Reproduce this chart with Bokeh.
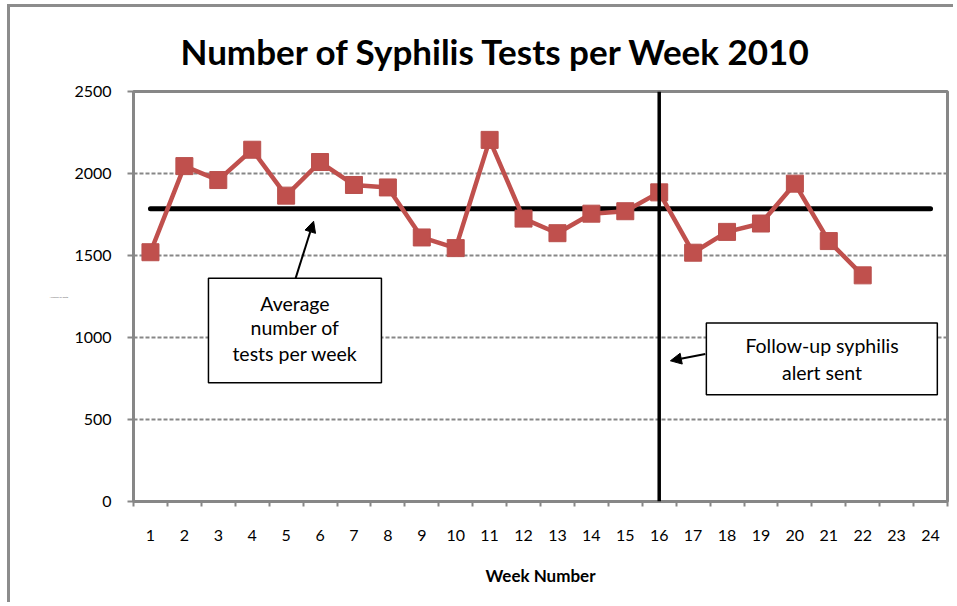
from bokeh.plotting import figure
from bokeh.models import (Range1d, FixedTicker, Span, BoxAnnotation, Label, Arrow,
                          NormalHead, ColumnDataSource)
from bokeh.embed import file_html
from bokeh.resources import INLINE

# ---- data ----
weeks = list(range(1, 23))
tests = [1520, 2045, 1960, 2145, 1865, 2070, 1930, 1915, 1610, 1545, 2205,
         1725, 1636, 1755, 1770, 1885, 1517, 1644, 1695, 1938, 1588, 1379]
week_labels = [str(i) for i in range(1, 25)]
y_ticks = [0, 500, 1000, 1500, 2000, 2500]
average_tests = 1785
alert_week = 16

FONT = "Lato"
RED = "#C0504D"
GRAY = "#878787"

p = figure(width=946, height=598, output_backend="svg", toolbar_location=None,
           x_range=Range1d(0.5, 24.5), y_range=Range1d(0, 2500),
           min_border_left=123, min_border_right=9, min_border_top=83, min_border_bottom=104)
p.styles = {"border-top": "3px solid #8c8c8c", "border-left": "3px solid #8c8c8c",
            "margin-left": "7px", "margin-top": "4px"}
p.background_fill_color = "white"
p.border_fill_color = "white"
p.outline_line_color = GRAY
p.outline_line_width = 3

# title
p.title.text = "Number of Syphilis Tests per Week 2010"
p.title.text_font = FONT
p.title.text_font_style = "bold"
p.title.text_font_size = "35px"
p.title.text_color = "black"
p.title.align = "left"
p.title.offset = 47
p.title.standoff = 40

# axes
xt = [float(i) for i in range(1, len(week_labels) + 1)]
p.xaxis.ticker = FixedTicker(ticks=xt, minor_ticks=[t - 0.5 for t in xt] + [xt[-1] + 0.5])
p.xaxis.major_label_overrides = {float(i + 1): lab for i, lab in enumerate(week_labels)}
p.xaxis.major_tick_out = 0
p.xaxis.major_tick_in = 0
p.xaxis.minor_tick_out = 5
p.xaxis.minor_tick_in = 0
p.xaxis.minor_tick_line_color = GRAY
p.xaxis.minor_tick_line_width = 2
p.xaxis.axis_line_color = GRAY
p.xaxis.axis_line_width = 3
p.xaxis.major_label_text_font = FONT
p.xaxis.major_label_text_font_size = "16px"
p.xaxis.major_label_text_color = "black"
p.xaxis.major_label_standoff = 23
p.xaxis.axis_label = "Week Number"
p.xaxis.axis_label_text_font = FONT
p.xaxis.axis_label_text_font_style = "bold"
p.xaxis.axis_label_text_font_size = "17px"
p.xaxis.axis_label_text_color = "black"
p.xaxis.axis_label_standoff = 21

p.yaxis.ticker = FixedTicker(ticks=y_ticks, minor_ticks=[])
p.yaxis.major_tick_out = 6
p.yaxis.major_tick_in = 0
p.yaxis.major_tick_line_color = GRAY
p.yaxis.major_tick_line_width = 2
p.yaxis.axis_line_color = GRAY
p.yaxis.axis_line_width = 3
p.yaxis.major_label_text_font = FONT
p.yaxis.major_label_text_font_size = "16px"
p.yaxis.major_label_text_color = "black"
p.yaxis.major_label_standoff = 16
p.yaxis.axis_label = "Number of Tests"
p.yaxis.axis_label_orientation = "horizontal"
p.yaxis.axis_label_text_font = FONT
p.yaxis.axis_label_text_font_size = "2.6px"
p.yaxis.axis_label_text_font_style = "normal"
p.yaxis.axis_label_text_color = "#666666"
p.yaxis.axis_label_standoff = 3

p.xgrid.visible = False
p.ygrid.ticker = FixedTicker(ticks=y_ticks)
p.ygrid.grid_line_color = GRAY
p.ygrid.grid_line_dash = "4 2"
p.ygrid.grid_line_width = 1.8

# average line
p.line(x=[xt[0], xt[-1]], y=[average_tests, average_tests], line_color="black",
       line_width=5, line_cap="round")

# alert line
p.add_layout(Span(location=alert_week, dimension="height", line_color="black", line_width=3.5))

# series
src = ColumnDataSource(dict(week=weeks, tests=tests))
p.line("week", "tests", source=src, line_color=RED, line_width=4.5)
p.scatter("week", "tests", source=src, marker="square", size=17,
          fill_color=RED, line_color="#B9504D", line_width=1)

# annotation boxes
p.add_layout(BoxAnnotation(left=2.71, right=7.81, top=1362, bottom=724,
                           fill_color="white", fill_alpha=1, line_color="black",
                           line_alpha=1, line_width=1.5, level="overlay"))
for txt, yy in [("Average", 1210), ("number of", 1058), ("tests per week", 900)]:
    p.add_layout(Label(x=5.26, y=yy, text=txt, text_font=FONT, text_font_size="19.5px",
                       text_align="center", text_baseline="middle", text_color="black",
                       level="overlay"))
p.add_layout(Arrow(end=NormalHead(size=11, fill_color="black", line_color="black"),
                   x_start=5.28, y_start=1362, x_end=5.81, y_end=1709,
                   line_color="black", line_width=2))

p.add_layout(BoxAnnotation(left=17.39, right=24.2, top=1089, bottom=651,
                           fill_color="white", fill_alpha=1, line_color="black",
                           line_alpha=1, line_width=1.5, level="overlay"))
for txt, yy in [("Follow-up syphilis", 949), ("alert sent", 785)]:
    p.add_layout(Label(x=20.8, y=yy, text=txt, text_font=FONT, text_font_size="19.5px",
                       text_align="center", text_baseline="middle", text_color="black",
                       level="overlay"))
p.add_layout(Arrow(end=NormalHead(size=11, fill_color="black", line_color="black"),
                   x_start=17.36, y_start=900, x_end=16.33, y_end=858,
                   line_color="black", line_width=2))

open("out.html", "w").write(file_html(p, INLINE))
